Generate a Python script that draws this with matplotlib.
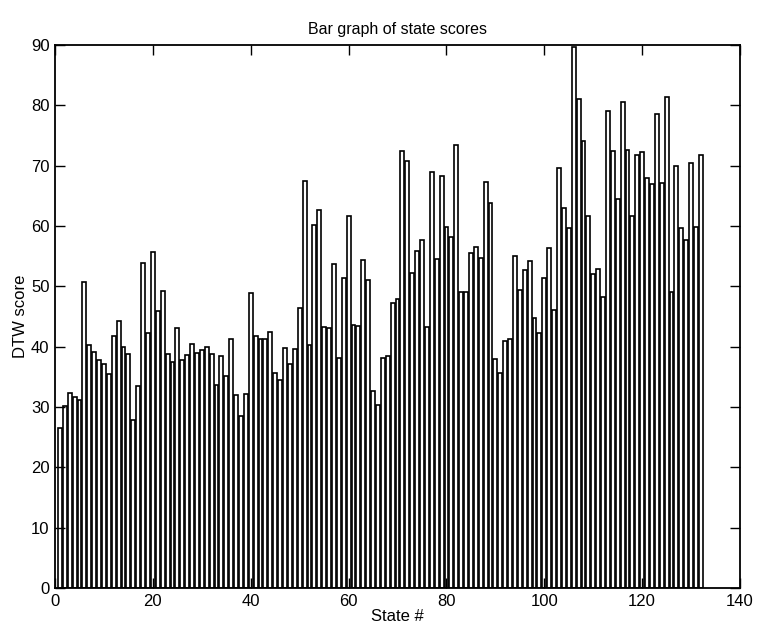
import numpy as np
import matplotlib
matplotlib.use("Agg")
import matplotlib.pyplot as plt

plt.rcParams['font.family'] = ['Liberation Sans', 'DejaVu Sans']

# DTW score for each state (states 1..132)
scores = [26.5, 30.2, 32.4, 31.7, 31.2, 50.7, 40.3, 39.2, 37.8, 37.1,
          35.5, 41.8, 44.2, 40.0, 38.8, 27.9, 33.5, 53.8, 42.2, 55.7,
          45.9, 49.2, 38.8, 37.5, 43.1, 37.8, 38.6, 40.5, 38.9, 39.4,
          40.0, 38.8, 33.7, 38.4, 35.2, 41.3, 32.0, 28.5, 32.2, 48.9,
          41.8, 41.2, 41.3, 42.5, 35.7, 34.5, 39.7, 37.1, 39.6, 46.4,
          67.5, 40.2, 60.2, 62.7, 43.3, 43.1, 53.7, 38.2, 51.4, 61.6,
          43.6, 43.5, 54.4, 51.0, 32.6, 30.3, 38.2, 38.5, 47.3, 47.9,
          72.5, 70.8, 52.2, 55.9, 57.7, 43.2, 68.9, 54.6, 68.3, 59.8,
          58.2, 73.4, 49.0, 49.0, 55.5, 56.5, 54.7, 67.3, 63.8, 38.0,
          35.7, 41.0, 41.3, 55.1, 49.4, 52.7, 54.2, 44.7, 42.3, 51.4,
          56.3, 46.0, 69.6, 63.0, 59.7, 89.7, 81.0, 74.1, 61.6, 52.1,
          52.9, 48.2, 79.0, 72.4, 64.5, 80.6, 72.6, 61.6, 71.8, 72.2,
          67.9, 67.0, 78.6, 67.1, 81.3, 49.0, 69.9, 59.7, 57.6, 70.5,
          59.9, 71.8]
states = np.arange(1, len(scores) + 1)

xticks = [0, 20, 40, 60, 80, 100, 120, 140]
yticks = [0, 10, 20, 30, 40, 50, 60, 70, 80, 90]

fig = plt.figure(figsize=(7.57, 6.31), dpi=100)
ax = fig.add_axes([0.0727, 0.0681, 0.9049, 0.8606])

ax.bar(states, scores, width=0.8, color='white', edgecolor='black', linewidth=1.2)

ax.set_xlim(0, 140)
ax.set_ylim(0, 90)
ax.set_xticks(xticks)
ax.set_yticks(yticks)
ax.tick_params(direction='in', length=7, width=1.0, top=True, right=True,
               labelsize=12, pad=4)
for s in ax.spines.values():
    s.set_linewidth(1.3)

ax.set_title('Bar graph of state scores', fontsize=11.5, pad=8)
ax.set_xlabel('State #', fontsize=12, labelpad=0)
ax.set_ylabel('DTW score', fontsize=12, labelpad=2)

fig.savefig('out.png', dpi=100)
